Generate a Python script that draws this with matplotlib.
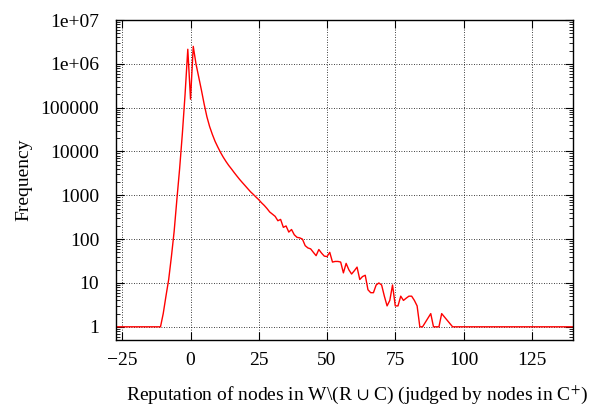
import matplotlib
matplotlib.use("Agg")
import matplotlib.pyplot as plt
from matplotlib.ticker import LogLocator, FixedLocator, NullFormatter, FixedFormatter

plt.rcParams['font.family'] = ['Liberation Serif', 'DejaVu Serif']
plt.rcParams['mathtext.fontset'] = 'stix'

# Reputation values (x) and frequencies (y)
reputation = [-35, -11, -10, -9, -8, -7, -6, -5, -4, -3, -2, -1, 0, 1,
              2, 3, 4, 5, 6, 7, 8, 9, 10, 11, 12, 13, 14, 15, 16, 17, 18, 19, 20,
              21, 22, 23, 24, 25, 26, 27, 28, 29, 30, 31, 32, 33, 34, 35, 36, 37, 38, 39, 40,
              41, 42, 43, 44, 45, 46, 47, 48, 49, 50, 51, 52, 53, 54, 55, 56, 57, 58, 59, 60,
              61, 62, 63, 64, 65, 66, 67, 68, 69, 70, 71, 72, 73, 74, 75, 76, 77, 78, 79, 80,
              81, 82, 83, 84, 85, 88, 89, 91, 92, 96, 150]
frequency = [1, 1, 2, 5, 12, 40, 150, 800, 4000, 25000, 200000, 2150000, 156000, 2500000,
             1000000, 500000, 250000, 120000, 62000, 37000, 24500, 17000, 12600, 9500, 7400, 5900, 4800, 4000, 3300, 2750, 2300, 1950, 1660,
             1410, 1200, 1050, 910, 794, 676, 589, 501, 417, 372, 331, 263, 282, 186, 200, 145, 166, 126, 110, 107,
             100, 71, 63, 60, 50, 42, 58, 48, 41, 40, 50, 30, 31, 31, 30, 17, 28, 20, 16, 19,
             23, 12, 14, 15, 7, 6, 6, 9, 10, 9, 5, 3, 4, 9, 3, 3, 5, 4, 4.5, 5,
             5, 4, 3, 1, 1, 2, 1, 1, 2, 1, 1]

xticks = [-25, 0, 25, 50, 75, 100, 125]
yticks = [1, 10, 100, 1000, 10000, 100000, 1e6, 1e7]
ytick_labels = ['1', '10', '100', '1000', '10000', '100000', '1e+06', '1e+07']

fig = plt.figure(figsize=(5.9, 4.05), dpi=100)
ax = fig.add_axes([0.1966, 0.1605, 0.9707 - 0.1966, 0.9506 - 0.1605])

ax.plot(reputation, frequency, color='#ff0000', linewidth=1.0)

ax.set_yscale('log')
ax.set_xlim(-27.3, 140)
ax.set_ylim(0.5, 1e7)

ax.xaxis.set_major_locator(FixedLocator(xticks))
ax.yaxis.set_major_locator(FixedLocator(yticks))
ax.yaxis.set_major_formatter(FixedFormatter(ytick_labels))
ax.yaxis.set_minor_locator(LogLocator(base=10, subs=range(2, 10)))
ax.yaxis.set_minor_formatter(NullFormatter())

ax.grid(True, which='major', color='black', linestyle=(0, (1, 2)), linewidth=0.6)
ax.tick_params(which='major', direction='in', length=6, width=0.8,
               top=True, right=True, labelsize=14, pad=9)
ax.tick_params(which='minor', direction='in', length=3, width=0.6, right=True)
ax.tick_params(axis='y', pad=12)
for s in ax.spines.values():
    s.set_linewidth(1.0)

ax.set_xlabel('Reputation of nodes in W\\(R $\\cup$ C) (judged by nodes in C$^{+}$)',
              fontsize=14)
ax.xaxis.set_label_coords(0.528, -0.135)
ax.set_ylabel('Frequency', fontsize=14, labelpad=6)

fig.savefig('out.png', dpi=100)
